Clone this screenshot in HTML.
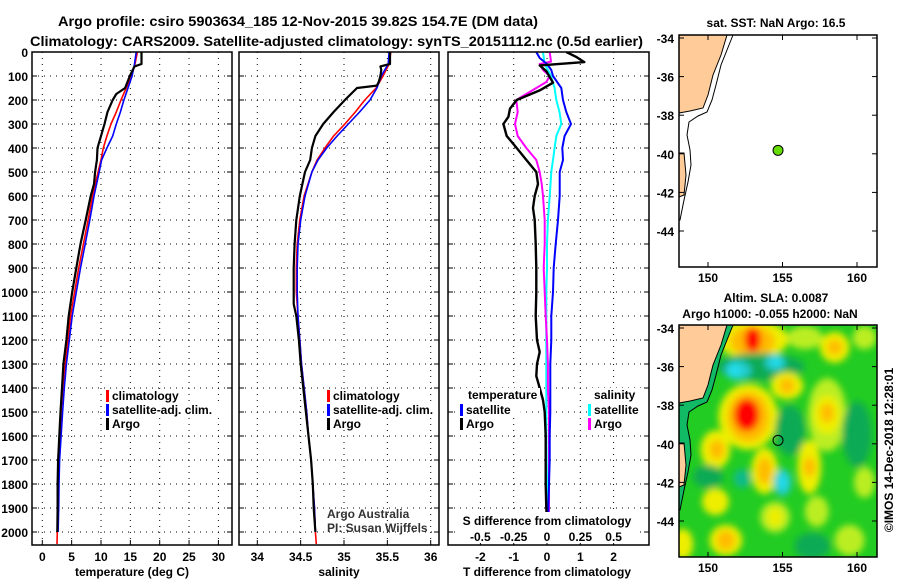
<!DOCTYPE html>
<html><head><meta charset="utf-8">
<style>
html,body{margin:0;padding:0;background:#fff;}
svg{display:block;font-family:"Liberation Sans",sans-serif;}
.b{font-weight:bold;font-size:12px;}
</style></head>
<body>
<svg id="chart" width="900" height="580" viewBox="0 0 900 580" xmlns="http://www.w3.org/2000/svg">
<defs>
<clipPath id="c1"><rect x="32" y="52" width="200" height="493"/></clipPath>
<clipPath id="c2"><rect x="239" y="52" width="200" height="493"/></clipPath>
<clipPath id="c3"><rect x="448" y="52" width="201" height="493"/></clipPath>
<clipPath id="cm2"><rect x="679" y="325" width="198" height="232"/></clipPath>
<filter id="blur" x="-50%" y="-50%" width="200%" height="200%"><feGaussianBlur stdDeviation="3.5"/></filter>
</defs>
<text x="58" y="26" textLength="480" lengthAdjust="spacingAndGlyphs" font-size="14" font-weight="bold">Argo profile: csiro 5903634_185 12-Nov-2015 39.82S 154.7E (DM data)</text>
<text x="30" y="46" textLength="613" lengthAdjust="spacingAndGlyphs" font-size="14" font-weight="bold">Climatology: CARS2009. Satellite-adjusted climatology: synTS_20151112.nc (0.5d earlier)</text>
<g id="g"></g>
</svg>
<script>
// ---- depth axis ----
const depthTicks=[0,100,200,300,400,500,600,700,800,900,1000,1100,1200,1300,1400,1500,1600,1700,1800,1900,2000];
// ---- temperature panel ----
const tempTicks=[0,5,10,15,20,25,30];
const argoTDepth=[0,50,60,100,150,175,200,250,300,350,400,450,500,550,600,700,800,900,1000,1100,1200,1300,1400,1500,1600,1700,1800,1900,2000];
const argoT=[16.9,16.9,15.7,14.9,14.1,12.6,12.0,11.1,10.6,10.0,9.4,9.3,9.0,8.8,8.25,7.4,6.5,5.8,5.1,4.5,4.1,3.6,3.35,3.1,2.9,2.7,2.6,2.6,2.55];
const climTDepth=[0,50,100,150,200,250,300,350,400,450,500,600,700,800,900,1000,1100,1200,1300,1400,1500,1600,1700,1800,1900,2000,2050];
const climT=[16.2,15.8,15.2,14.3,13.4,12.6,11.7,11.0,10.4,10.0,9.5,8.55,7.8,7.0,6.2,5.5,4.8,4.4,3.9,3.5,3.2,3.0,2.85,2.7,2.65,2.55,2.5];
const satTDepth=[0,50,100,150,200,250,300,350,400,450,500,600,700,800,900,1000,1100,1200,1300,1400,1500,1600,1700,1800,1900,2000];
const satT=[16.0,15.7,15.3,14.6,13.9,13.3,12.6,12.0,11.0,10.1,9.7,8.8,8.1,7.3,6.5,5.8,5.1,4.6,4.1,3.75,3.45,3.2,2.95,2.85,2.8,2.7];
// ---- salinity panel ----
const salTicks=[34,34.5,35,35.5,36];
const argoSDepth=[0,50,60,75,100,125,140,150,200,250,300,350,400,450,500,600,700,800,900,1000,1050,1100,1200,1300,1400,1500,1600,1700,1800,1900,2000];
const argoS=[35.53,35.53,35.42,35.43,35.42,35.40,35.38,35.15,35.01,34.88,34.76,34.67,34.63,34.61,34.55,34.49,34.45,34.43,34.42,34.42,34.42,34.45,34.48,34.5,34.53,34.56,34.59,34.62,34.64,34.65,34.67];
const climSDepth=[0,50,100,150,200,250,300,350,400,450,500,600,700,800,900,1000,1100,1200,1300,1400,1500,1600,1700,1800,1900,2000,2050];
const climS=[35.54,35.52,35.45,35.37,35.24,35.13,35.01,34.88,34.78,34.69,34.63,34.54,34.49,34.46,34.45,34.45,34.47,34.49,34.51,34.54,34.57,34.59,34.62,34.64,34.66,34.67,34.68];
const satSDepth=[0,50,100,150,200,250,300,350,400,450,500,600,700,800,900,1000,1100,1200,1300,1400,1500,1600,1700,1800,1900,2000];
const satS=[35.52,35.51,35.43,35.38,35.30,35.18,35.05,34.92,34.80,34.70,34.63,34.55,34.50,34.47,34.46,34.46,34.47,34.49,34.51,34.54,34.57,34.59,34.62,34.64,34.66,34.67];
// ---- difference panel ----
const tDiffTicks=[-2,-1,0,1,2];
const sDiffTicks=[-0.5,-0.25,0,0.25,0.5];
const sDiffTickLabels=["-0.5","-0.25","0","0.25","0.5"];
const argoTdDepth=[0,20,42,56,80,128,160,200,236,270,300,350,400,450,500,550,600,650,700,800,900,1000,1100,1200,1250,1300,1350,1400,1450,1500,1600,1700,1800,1900,1960];
const argoTd=[0.58,0.87,1.12,-0.22,-0.02,0.18,-0.22,-0.91,-1.11,-1.16,-1.31,-1.21,-0.91,-0.62,-0.32,-0.27,-0.37,-0.42,-0.37,-0.34,-0.32,-0.32,-0.34,-0.30,-0.22,-0.30,-0.32,-0.22,-0.12,-0.07,-0.04,-0.04,-0.04,-0.02,0];
const satTdDepth=[0,25,50,75,100,150,200,250,300,350,400,450,500,600,700,800,900,1000,1100,1200,1300,1400,1500,1600,1700,1800,1900,1980];
const satTd=[-0.32,-0.22,0,0.13,0.18,0.43,0.48,0.58,0.72,0.53,0.46,0.48,0.38,0.38,0.33,0.26,0.2,0.18,0.13,0.13,0.10,0.10,0.10,0.08,0.08,0.06,0.04,0.03];
const argoSdDepth=[0,40,50,75,100,125,150,175,200,250,300,350,400,450,500,550,600,700,800,900,1000,1100,1200,1300,1400,1500,1600,1700,1800,1900,2000];
const argoSd=[0.02,0.03,-0.055,-0.03,0.02,-0.005,-0.08,-0.155,-0.23,-0.22,-0.24,-0.22,-0.155,-0.08,-0.055,-0.04,-0.03,-0.017,-0.017,-0.025,-0.017,-0.01,0,0.007,0.007,0.015,0.015,0.015,0.015,0.015,0.015];
const satSdDepth=[0,50,75,100,150,200,250,300,350,400,450,500,600,700,800,900,1000,1200,1400,1600,1800,1950];
const satSd=[-0.03,-0.017,0.007,0.03,0.057,0.07,0.094,0.107,0.07,0.057,0.045,0.032,0.02,0.007,0,0,-0.005,-0.005,-0.005,-0.005,0,0];

const NS='http://www.w3.org/2000/svg';
const G=document.getElementById('g');
function mk(tag,at,parent){const e=document.createElementNS(NS,tag);for(const k in at)e.setAttribute(k,at[k]);(parent||G).appendChild(e);return e;}
const yD=d=>52+d*0.24;
const xT=t=>42.3+t*5.87;
const xS=s=>257.3+(s-34)*86.7;
const xTd=t=>547+t*33.3;
const xSd=s=>547+s*133.3;
const frames=[];

function panel(x0,w,name){
  mk('rect',{x:x0,y:52,width:w,height:493,fill:'#fff'});
  frames.push([x0,52,w,493,name]);
  depthTicks.forEach(d=>{const l=mk('line',{x1:x0,x2:x0+w,y1:yD(d),y2:yD(d),stroke:'#000','stroke-width':1,'stroke-dasharray':'1 5'});
    
    
    mk('line',{x1:x0,x2:x0+5,y1:yD(d),y2:yD(d),stroke:'#000'});mk('line',{x1:x0+w-5,x2:x0+w,y1:yD(d),y2:yD(d),stroke:'#000'});});
}
function vgrid(xs,name){xs.forEach(x=>{const l=mk('line',{x1:x,x2:x,y1:52,y2:545,stroke:'#000','stroke-width':1,'stroke-dasharray':'1 5'});
  
  
  mk('line',{x1:x,x2:x,y1:540,y2:545,stroke:'#000'});});}
function series(xs,ds,fx,color,clip,name,sw){
  const pts=xs.map((v,i)=>fx(v).toFixed(1)+','+yD(ds[i]).toFixed(1)).join(' ');
  const p=mk('polyline',{points:pts,fill:'none',stroke:color,'stroke-width':sw||1.6,'clip-path':'url(#'+clip+')','stroke-linejoin':'round'});
  
  
}
function txt(x,y,s,cls,anchor,name,extra){const t=mk('text',Object.assign({x:x,y:y,class:cls||'b','text-anchor':anchor||'start'},extra||{}));t.textContent=s;
  
  
  return t;}
function legend(x,y,color,label,name){mk('rect',{x:x+4,y:y-10,width:textW(label),height:13,fill:'#fff'});
  const b=mk('rect',{x:x,y:y-9,width:3,height:12,fill:color});
  
  
  txt(x+6,y+1,label,'b','start',name);}
function textW(s){return s.length*6.3;}

// Panel 1
panel(32,200,'temperature-panel');
vgrid(tempTicks.map(xT),'temperature-gridline');
depthTicks.forEach(d=>txt(28,yD(d)+5,String(d),'b','end','depth-tick-label'));
tempTicks.forEach(t=>txt(xT(t),561,String(t),'b','middle','temperature-tick-label'));
txt(132,576,'temperature (deg C)','b','middle','temperature-axis-title');
series(climT,climTDepth,xT,'#f00','c1','climatology-temperature-line');
series(satT,satTDepth,xT,'#00f','c1','satellite-temperature-line');
series(argoT,argoTDepth,xT,'#000','c1','argo-temperature-line',2.2);
legend(106,399,'#f00','climatology','legend-climatology');
legend(106,413,'#00f','satellite-adj. clim.','legend-satellite');
legend(106,427,'#000','Argo','legend-argo');

// Panel 2
panel(239,200,'salinity-panel');
vgrid(salTicks.map(xS),'salinity-gridline');
salTicks.forEach(s=>txt(xS(s),561,String(s),'b','middle','salinity-tick-label'));
txt(339,576,'salinity','b','middle','salinity-axis-title');
series(climS,climSDepth,xS,'#f00','c2','climatology-salinity-line');
series(satS,satSDepth,xS,'#00f','c2','satellite-salinity-line');
series(argoS,argoSDepth,xS,'#000','c2','argo-salinity-line',2.2);
legend(327,399,'#f00','climatology','legend-climatology-s');
legend(327,413,'#00f','satellite-adj. clim.','legend-satellite-s');
legend(327,427,'#000','Argo','legend-argo-s');
txt(327,518,'Argo Australia','','start','credit-argo-australia',{'font-size':'12','fill':'#333'});
txt(327,532,'PI: Susan Wijffels','','start','credit-pi',{'font-size':'12','fill':'#333'});

// Panel 3
panel(448,201,'difference-panel');
vgrid(tDiffTicks.map(xTd),'tdiff-gridline');
tDiffTicks.forEach(t=>txt(xTd(t),561,String(t),'b','middle','tdiff-tick-label'));
txt(547,576,'T difference from climatology','b','middle','tdiff-axis-title');
series(satSd,satSdDepth,xSd,'#0ff','c3','satellite-salinity-diff-line',2);
series(argoSd,argoSdDepth,xSd,'#f0f','c3','argo-salinity-diff-line',2);
series(satTd,satTdDepth,xTd,'#00f','c3','satellite-temperature-diff-line',2);
series(argoTd,argoTdDepth,xTd,'#000','c3','argo-temperature-diff-line',2.4);
mk('rect',{x:466,y:388,width:74,height:13,fill:'#fff'});
txt(468,399,'temperature','b','start','legend-temperature-heading');
legend(460,413,'#00f','satellite','legend-tdiff-satellite');
legend(460,427,'#000','Argo','legend-tdiff-argo');
mk('rect',{x:592,y:388,width:50,height:13,fill:'#fff'});
txt(594,399,'salinity','b','start','legend-salinity-heading');
legend(588,413,'#0ff','satellite','legend-sdiff-satellite');
legend(588,427,'#f0f','Argo','legend-sdiff-argo');
mk('rect',{x:458,y:512,width:180,height:31,fill:'#fff'});
txt(547,525,'S difference from climatology','b','middle','sdiff-axis-title');
sDiffTicks.forEach((s,i)=>txt(xSd(s),541,sDiffTickLabels[i],'b','middle','sdiff-tick-label'));

frames.forEach(f=>{const r=mk('rect',{x:f[0],y:f[1],width:f[2],height:f[3],fill:'none',stroke:'#000','stroke-width':1.5});
  
  });

// Maps
const mapLonTicks=[150,155,160];
const mapLatTicks=[-34,-36,-38,-40,-42,-44];
const argoLon=154.7, argoLat=-39.82;
const mx=lon=>708+(lon-150)*14.9;
function map(top){return lat=>top+3+(-34-lat)*19.3;}
function coast(top){
  const o=top-35;
  const land=mk('polygon',{points:[[679,35],[727,35],[721,55],[713,75],[708,95],[703,108],[690,111],[679,113]].map(p=>p[0]+','+(p[1]+o)).join(' '),fill:'#fc9',stroke:'#000','stroke-width':1});
  
  
  const tas=mk('polygon',{points:[[679,153],[684,153],[686,175],[684,195],[679,197]].map(p=>p[0]+','+(p[1]+o)).join(' '),fill:'#fc9',stroke:'#000','stroke-width':1});
  
  
}
function isobath(top,fill){
  const o=top-35;
  const pts=[[733,35],[727,50],[721,65],[716,85],[712,100],[707,112],[698,116],[689,122],[687,135],[690,150],[691,165],[688,182],[684,200],[680,220],[679,220]].map(p=>p[0]+','+(p[1]+o)).join(' ');
  if(fill){const sh=mk('polygon',{points:pts+' 679,'+(35+o),fill:fill,stroke:'none'});}
  const l=mk('polyline',{points:pts,fill:'none',stroke:'#000','stroke-width':1});
  
  
}
function mapAxes(top,name){
  const my=map(top);
  const fr=mk('rect',{x:679,y:top,width:198,height:232,fill:'none',stroke:'#000','stroke-width':1.5});
  
  
  mapLonTicks.forEach(l=>{mk('line',{x1:mx(l),x2:mx(l),y1:top,y2:top+5,stroke:'#000'});mk('line',{x1:mx(l),x2:mx(l),y1:top+227,y2:top+232,stroke:'#000'});
    txt(mx(l),top+247,String(l),'b','middle','map-lon-tick-label');});
  mapLatTicks.forEach(l=>{mk('line',{x1:679,x2:684,y1:my(l),y2:my(l),stroke:'#000'});mk('line',{x1:872,x2:877,y1:my(l),y2:my(l),stroke:'#000'});
    txt(674,my(l)+5,String(l),'b','end','map-lat-tick-label');});
}
// top map
mk('rect',{x:679,y:35,width:198,height:232,fill:'#fff'});
coast(35); isobath(35,null);
const my1=map(35);
const d1=mk('circle',{cx:mx(argoLon),cy:my1(argoLat),r:5,fill:'#6d0',stroke:'#000','stroke-width':1});


mapAxes(35,'sst-map-frame');
txt(776,27,'sat. SST: NaN Argo: 16.5','b','middle','sst-map-title');

// bottom map SLA blobs: [lon, lat, rx(deg), ry(deg), color]
const slaBlobs=[
 [153.0,-34.6,2.4,1.0,'#ee0'],[153.0,-34.7,1.5,0.8,'#fb0'],[153.0,-34.6,0.55,0.65,'#f00'],
 [156.5,-34.5,1.2,0.6,'#be2'],[158.5,-35.0,1.0,0.8,'#ee0'],[158.5,-35.0,0.5,0.4,'#fb0'],
 [160.5,-34.5,0.8,0.6,'#be2'],
 [153.5,-36.0,3.0,0.7,'#1a5'],[152.0,-36.2,0.9,0.5,'#2cc'],[154.5,-35.8,0.7,0.4,'#2cc'],[151.8,-36.2,0.4,0.35,'#2de'],[154.6,-35.7,0.35,0.3,'#2de'],
 [155.3,-37.0,1.1,0.7,'#ee0'],[155.3,-37.0,0.5,0.4,'#fb0'],
 [152.7,-38.6,2.0,1.7,'#ee0'],[152.7,-38.6,1.4,1.3,'#fb0'],[152.6,-38.5,0.85,0.85,'#f00'],
 [158.0,-38.5,1.3,1.9,'#be2'],[158.0,-38.5,0.9,1.0,'#ee0'],[158.0,-38.4,0.45,0.5,'#fb0'],
 [155.5,-39.3,1.0,1.3,'#1a5'],[160.0,-39.5,1.0,1.7,'#1a5'],
 [150.5,-40.3,1.0,1.0,'#ee0'],[150.6,-40.3,0.5,0.5,'#fb0'],
 [153.8,-41.4,0.9,1.2,'#ee0'],[153.8,-41.4,0.5,0.7,'#fb0'],
 [156.8,-41.2,0.8,1.4,'#ee0'],[156.8,-41.2,0.4,0.5,'#fb0'],
 [150.0,-41.7,1.0,0.6,'#1a5'],[152.3,-41.8,0.6,0.5,'#1b8'],[155.0,-42.0,0.6,0.7,'#2cc'],[155.0,-42.0,0.3,0.35,'#2de'],
 [150.5,-43.0,0.9,0.7,'#ee0'],[154.5,-43.8,1.0,0.8,'#be2'],[154.5,-43.8,0.5,0.5,'#ee0'],
 [157.3,-43.5,0.8,0.8,'#be2'],[160.5,-42.0,0.7,0.8,'#be2'],[159.5,-45.0,1.0,0.8,'#be2'],
 [151.2,-45.0,1.1,0.8,'#ee0'],[151.2,-45.0,0.6,0.5,'#fb0'],[148.3,-45.2,0.7,0.8,'#ee0'],
 [157.0,-45.3,1.2,0.7,'#1a5']
];
const g2=mk('g',{'clip-path':'url(#cm2)'});


mk('rect',{x:679,y:325,width:198,height:232,fill:'#2c2'},g2);
const gb=mk('g',{filter:'url(#blur)'},g2);
const my2=map(325);
slaBlobs.forEach(b=>{const e=mk('ellipse',{cx:mx(b[0]),cy:my2(b[1]),rx:b[2]*14.9,ry:b[3]*19.3,fill:b[4]},gb);
  
  });
isobath(325,'#1b6');
coast(325);
const d2=mk('circle',{cx:mx(argoLon),cy:my2(argoLat),r:5,fill:'none',stroke:'#000','stroke-width':1});


mapAxes(325,'sla-map-frame');
txt(776,302,'Altim. SLA: 0.0087','b','middle','sla-map-title');
txt(770,318,'Argo h1000: -0.055 h2000: NaN','b','middle','sla-map-subtitle');
txt(0,0,'©IMOS 14-Dec-2018 12:28:01','','middle','imos-timestamp',{'font-size':'12',transform:'translate(893,450) rotate(-90)'});
</script>
</body></html>
